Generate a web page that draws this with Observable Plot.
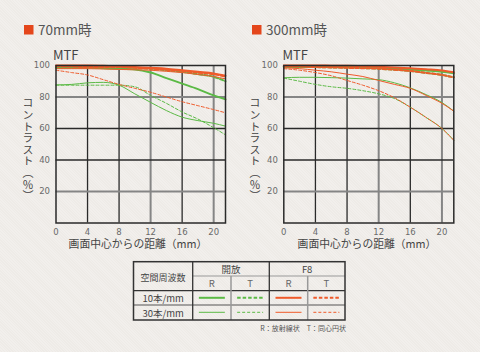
<!DOCTYPE html>
<html><head><meta charset="utf-8">
<script src="https://cdn.jsdelivr.net/npm/d3@7"></script>
<script src="https://cdn.jsdelivr.net/npm/@observablehq/plot@0.6"></script>
<style>
html,body{margin:0;padding:0;}
body{width:480px;height:352px;overflow:hidden;background-color:#eeebe7;
 background-image:repeating-linear-gradient(45deg,rgba(255,255,255,0.22) 0 1px,transparent 1px 2px);}
#c{position:relative;width:480px;height:352px;}
#c > svg{position:absolute;top:0;}
</style></head><body><div id="c"></div>
<script>
// ---- data ----
const distances = [0, 2, 4, 6, 8, 10, 12, 14, 16, 18, 20, 21.5];
const xTicks = [0, 4, 8, 12, 16, 20];
const yTicks = [20, 40, 60, 80, 100];
const titles = ["70mm時", "300mm時"];
const apertures = ["開放", "F8"];
const frequencies = ["10本/mm", "30本/mm"];
const directions = ["R", "T"];

// 70mm
const w70_open_10R = [98.5, 98.5, 98.5, 98.3, 98, 97.5, 95.5, 92, 88.5, 85, 81, 78.5];
const w70_open_10T = [99, 99, 99, 99, 99, 98.5, 98, 97, 96, 94.5, 92.8, 90];
const w70_open_30R = [87.7, 88, 89, 89.3, 87.5, 82, 76.6, 71.4, 67.2, 65, 63.3, 61.5];
const w70_open_30T = [87.5, 87.5, 87.5, 87.5, 87.5, 86.5, 81, 76, 70.5, 66, 60.5, 56];
const w70_f8_10R = [100, 100, 100, 99.8, 99.5, 99, 98.5, 98, 97, 96, 95, 93.5];
const w70_f8_10T = [99.5, 99.3, 99, 99, 99, 98.5, 98, 97.3, 96.5, 95.5, 94.5, 93];
const w70_f8_30R = [98, 98, 98, 97.8, 97.5, 97.3, 97, 96.3, 95.5, 94.3, 93, 91.5];
const w70_f8_30T = [97, 95.5, 94, 91, 88, 85.5, 83, 80, 77, 74.5, 72, 70];

// 300mm
const w300_open_10R = [99, 99, 99, 99, 99, 98.8, 98.5, 98, 97.5, 96.8, 96, 95];
const w300_open_10T = [99.2, 99.1, 99, 98.8, 98.6, 98.4, 98, 97.3, 96.5, 95.3, 94, 92.5];
const w300_open_30R = [92.2, 92.5, 92.5, 92.3, 92, 91.5, 91, 89, 85.8, 81.5, 76.5, 71];
const w300_open_30T = [92, 90, 88, 86.5, 85.5, 84, 82, 79, 73.5, 67, 60, 52.5];
const w300_f8_10R = [100, 100, 100, 99.9, 99.8, 99.5, 99.2, 98.8, 98.3, 97.6, 96.8, 95.7];
const w300_f8_10T = [99.5, 99.3, 99, 98.8, 98.5, 98.3, 98, 97.3, 96.5, 95.3, 94, 92.5];
const w300_f8_30R = [98.5, 98, 97, 96, 94.5, 93, 90.5, 88, 85.5, 81, 76, 71];
const w300_f8_30T = [98, 97, 95.5, 93.5, 90.5, 87.5, 84, 79.5, 73.5, 67, 60, 52.5];

// ---- styles ----
const GREEN = "#5bba45", ORANGE = "#ef5a2a", SQUARE = "#e4461b";
const colorOf = {"開放": GREEN, "F8": ORANGE};
const widthOf = {"10本/mm": 2, "30本/mm": 1};
const dashOf = (dir, freq) => dir === "R" ? null : (freq === "10本/mm" ? "3.5,2" : "3,2");

function series(open10R, open10T, open30R, open30T, f810R, f810T, f830R, f830T) {
  return [
    ["開放", "30本/mm", "R", open30R], ["開放", "30本/mm", "T", open30T],
    ["開放", "10本/mm", "R", open10R], ["開放", "10本/mm", "T", open10T],
    ["F8", "30本/mm", "R", f830R], ["F8", "30本/mm", "T", f830T],
    ["F8", "10本/mm", "R", f810R], ["F8", "10本/mm", "T", f810T]
  ];
}
const charts = [
  series(w70_open_10R, w70_open_10T, w70_open_30R, w70_open_30T, w70_f8_10R, w70_f8_10T, w70_f8_30R, w70_f8_30T),
  series(w300_open_10R, w300_open_10T, w300_open_30R, w300_open_30T, w300_f8_10R, w300_f8_10T, w300_f8_30R, w300_f8_30T)
];
const lightX = [12, 20], lightY = [20, 80];

function makeChart(ser, ml, mr) {
  const lines = ser.map(([ap, fr, dir, vals]) =>
    Plot.line(distances.map((d, i) => ({mm: d, v: vals[i]})), {
      x: "mm", y: "v", stroke: colorOf[ap], strokeWidth: widthOf[fr],
      strokeDasharray: dashOf(dir, fr), curve: "monotone-x"
    }));
  return Plot.plot({
    width: 240, height: 250,
    marginLeft: ml, marginRight: mr, marginTop: 65, marginBottom: 27.5,
    x: {domain: [0, 21.5], ticks: xTicks, tickSize: 0, tickPadding: 5.5, label: null},
    y: {domain: [0, 100], ticks: yTicks, tickSize: 0, tickPadding: 6, label: null},
    style: {background: "transparent", fontFamily: "DejaVu Sans", fontSize: "8.5px", color: "#6a6a6a", overflow: "visible"},
    marks: [
      Plot.ruleX(xTicks.filter(t => t > 0 && !lightX.includes(t)), {stroke: "#2a2a2a", strokeWidth: 1.3}),
      Plot.ruleX(lightX, {stroke: "#858585", strokeWidth: 2}),
      Plot.ruleY(yTicks.filter(t => t < 100 && !lightY.includes(t)), {stroke: "#2a2a2a", strokeWidth: 1.3}),
      Plot.ruleY(lightY, {stroke: "#858585", strokeWidth: 2}),
      ...lines,
      Plot.frame({stroke: "#2a2a2a", strokeWidth: 1.5})
    ]
  });
}

const c = document.getElementById("c");
const p1 = makeChart(charts[0], 55.5, 15);
p1.style.left = "0px";
c.appendChild(p1);
const p2 = makeChart(charts[1], 43.3, 26.7);
p2.style.left = "240px";
c.appendChild(p2);

// ---- overlay text & legend table ----
const svg = d3.create("svg").attr("width", 480).attr("height", 352)
  .style("left", "0px").style("font-family", "'Noto Sans CJK JP', sans-serif");
const panels = [
  {sq: 24, title: 38, mtf: 53, ytitle: 28, xmid: 138},
  {sq: 252, title: 266, mtf: 282.5, ytitle: 255, xmid: 367}
];
panels.forEach((p, i) => {
  svg.append("rect").attr("x", p.sq).attr("y", 25).attr("width", 9.5).attr("height", 9.5).attr("fill", SQUARE);
  svg.append("text").attr("x", p.title).attr("y", 34.5).attr("font-size", 13.5).attr("fill", "#555").text(titles[i]);
  svg.append("text").attr("x", p.mtf).attr("y", 60).attr("font-size", 13).attr("fill", "#444").text("MTF");
  svg.append("text").attr("x", p.ytitle).attr("y", 150).attr("font-size", 11).attr("fill", "#444")
    .attr("text-anchor", "middle").style("writing-mode", "vertical-rl").style("text-orientation", "upright")
    .style("letter-spacing", "0.6px")
    .text("コントラスト（％）");
  svg.append("text").attr("x", p.xmid).attr("y", 248).attr("font-size", 10.8).attr("fill", "#444")
    .attr("text-anchor", "middle").text("画面中心からの距離（mm）");
});

// legend table
const tx = [133.5, 192.7, 231, 269.3, 307.7, 345];
const ty = [261.7, 276, 290.7, 305, 320];
const dark = "#333", light = "#999";
const L = (x1, y1, x2, y2, col, w) => svg.append("line").attr("x1", x1).attr("y1", y1).attr("x2", x2).attr("y2", y2)
  .attr("stroke", col).attr("stroke-width", w);
L(tx[1], ty[1], tx[5], ty[1], light, 1);
L(tx[0], ty[2], tx[5], ty[2], dark, 1.3);
L(tx[0], ty[3], tx[5], ty[3], "#555", 1.2);
L(tx[2], ty[1], tx[2], ty[4], light, 1.5);
L(tx[4], ty[1], tx[4], ty[4], light, 1.5);
L(tx[1], ty[0], tx[1], ty[4], dark, 1.3);
L(tx[3], ty[0], tx[3], ty[4], dark, 1.3);
svg.append("rect").attr("x", tx[0]).attr("y", ty[0]).attr("width", tx[5] - tx[0]).attr("height", ty[4] - ty[0])
  .attr("fill", "none").attr("stroke", dark).attr("stroke-width", 1.5);
const T = (x, y, s, size, col) => svg.append("text").attr("x", x).attr("y", y).attr("font-size", size)
  .attr("fill", col).attr("text-anchor", "middle").text(s);
T((tx[0] + tx[1]) / 2, 281, "空間周波数", 9, "#444");
apertures.forEach((ap, a) => {
  T((tx[1 + 2 * a] + tx[3 + 2 * a]) / 2, 272.5, ap, 9.5, "#444");
  directions.forEach((dir, d) => {
    const x0 = tx[1 + 2 * a + d], x1 = tx[2 + 2 * a + d], xm = (x0 + x1) / 2;
    T(xm, 287, dir, 9.5, "#666");
    frequencies.forEach((fr, f) => {
      svg.append("line").attr("x1", xm - 13).attr("x2", xm + 13).attr("y1", f ? 312.3 : 297.8).attr("y2", f ? 312.3 : 297.8)
        .attr("stroke", colorOf[ap]).attr("stroke-width", widthOf[fr]).attr("stroke-dasharray", dashOf(dir, fr));
    });
  });
});
frequencies.forEach((fr, f) => T((tx[0] + tx[1]) / 2, f ? 316.5 : 302, fr, 9.5, "#444"));
svg.append("text").attr("x", 346).attr("y", 330.5).attr("font-size", 7).attr("fill", "#555")
  .attr("text-anchor", "end").text("R：放射線状　T：同心円状");
c.appendChild(svg.node());
</script></body></html>
